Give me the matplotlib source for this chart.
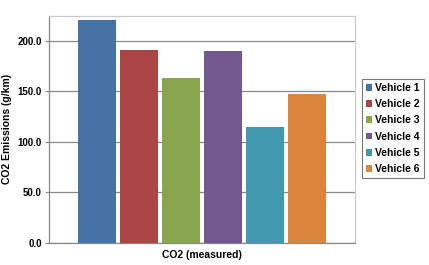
import matplotlib
matplotlib.use("Agg")
import matplotlib.pyplot as plt

# Data
vehicles = ["Vehicle 1", "Vehicle 2", "Vehicle 3", "Vehicle 4", "Vehicle 5", "Vehicle 6"]
co2_values = [221, 191, 163, 190, 115, 147]
colors = ["#4572A7", "#AA4643", "#89A54E", "#71588F", "#4198AF", "#DB843D"]
y_ticks = [0, 50, 100, 150, 200]

plt.rcParams["font.family"] = ["Liberation Sans", "DejaVu Sans"]
plt.rcParams["font.weight"] = "bold"

fig = plt.figure(figsize=(4.29, 2.65), dpi=100)
ax = fig.add_axes([0.1135, 0.083, 0.714, 0.8585])

handles = []
for i, (name, val, c) in enumerate(zip(vehicles, co2_values, colors)):
    b = ax.bar(i, val, width=0.9, color=c, label=name, zorder=3)
    handles.append(b)

ax.set_xlim(-1.14, 6.14)
ax.set_ylim(0, 225)
ax.set_yticks(y_ticks)
ax.set_yticklabels([f"{t:.1f}" for t in y_ticks], fontsize=7, fontweight="bold")
ax.set_xticks([])
ax.yaxis.grid(True, color="#888888", linewidth=0.9, zorder=0)
ax.tick_params(axis="y", length=3, color="#888888", pad=2)

for side in ["top", "right"]:
    ax.spines[side].set_color("#cccccc")
for side in ["left", "bottom"]:
    ax.spines[side].set_color("#888888")
for s in ax.spines.values():
    s.set_linewidth(0.9)

ax.set_ylabel("CO2 Emissions (g/km)", fontsize=7.5, fontweight="bold", labelpad=4)
ax.set_xlabel("CO2 (measured)", fontsize=7.5, fontweight="bold", labelpad=5)

leg = fig.legend(handles=handles, loc="center left", bbox_to_anchor=(0.843, 0.515),
                 fontsize=7.5, frameon=True, fancybox=False, edgecolor="#555555",
                 handlelength=0.6, handleheight=0.6, handletextpad=0.3,
                 labelspacing=0.6, borderpad=0.4, borderaxespad=0)
leg.get_frame().set_linewidth(0.8)
for t in leg.get_texts():
    t.set_fontweight("bold")

fig.savefig("out.png", dpi=100)
